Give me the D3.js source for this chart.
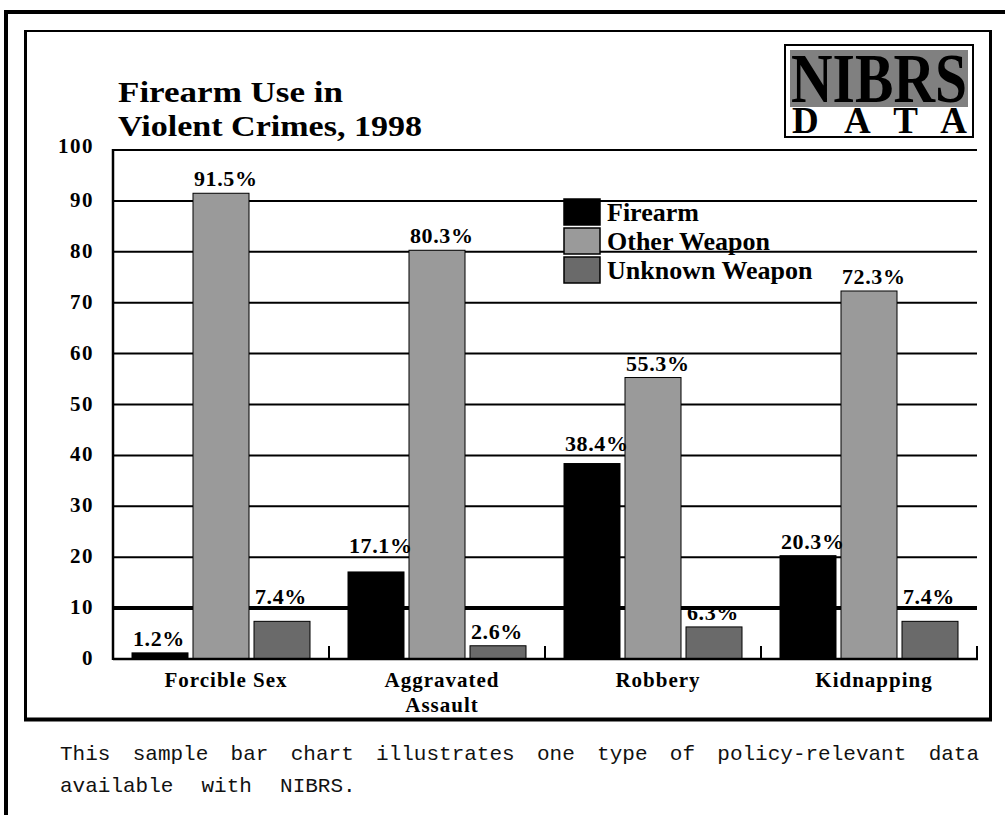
<!DOCTYPE html>
<html>
<head>
<meta charset="utf-8">
<script src="https://cdn.jsdelivr.net/npm/d3@7"></script>
<style>
  html, body { margin: 0; padding: 0; background: #fff; }
  svg { display: block; }
</style>
</head>
<body>
<div id="chart"></div>
<script>
// ---- data ----
const categories = ["Forcible Sex", "Aggravated Assault", "Robbery", "Kidnapping"];
const categoryLines = [["Forcible Sex"], ["Aggravated", "Assault"], ["Robbery"], ["Kidnapping"]];
const seriesNames = ["Firearm", "Other Weapon", "Unknown Weapon"];
const firearm = [1.2, 17.1, 38.4, 20.3];
const otherWeapon = [91.5, 80.3, 55.3, 72.3];
const unknownWeapon = [7.4, 2.6, 6.3, 7.4];
const yTicks = [0, 10, 20, 30, 40, 50, 60, 70, 80, 90, 100];
const titleLines = ["Firearm Use in", "Violent Crimes, 1998"];
const captionLines = ["This sample bar chart illustrates one type of policy-relevant data", "available with NIBRS."];

const seriesValues = [firearm, otherWeapon, unknownWeapon];
const colors = ["#000000", "#9a9a9a", "#6a6a6a"];

const W = 1005, H = 815;
const svg = d3.select("#chart").append("svg").attr("width", W).attr("height", H);
svg.append("rect").attr("width", W).attr("height", H).attr("fill", "#fff");

const serif = "'Liberation Serif', 'Times New Roman', serif";

// ---- frames ----
svg.append("line").attr("x1", 4).attr("x2", W + 5).attr("y1", 12).attr("y2", 12).attr("stroke", "#000").attr("stroke-width", 4);
svg.append("line").attr("x1", 6).attr("x2", 6).attr("y1", 10).attr("y2", H + 5).attr("stroke", "#000").attr("stroke-width", 4);

svg.append("line").attr("x1", 24).attr("x2", 992).attr("y1", 31).attr("y2", 31).attr("stroke", "#000").attr("stroke-width", 2);
svg.append("line").attr("x1", 25.5).attr("x2", 25.5).attr("y1", 30).attr("y2", 721).attr("stroke", "#000").attr("stroke-width", 3);
svg.append("line").attr("x1", 990.5).attr("x2", 990.5).attr("y1", 30).attr("y2", 721).attr("stroke", "#000").attr("stroke-width", 3);
svg.append("line").attr("x1", 24).attr("x2", 992).attr("y1", 719.5).attr("y2", 719.5).attr("stroke", "#000").attr("stroke-width", 4);

// ---- scales ----
const plot = { left: 113, right: 977, top: 150, bottom: 659 };
const y = d3.scaleLinear().domain([0, 100]).range([plot.bottom, plot.top]);
const x0 = d3.scaleBand().domain(categories).range([plot.left, plot.right]).padding(0);
const x1 = d3.scaleBand().domain(seriesNames).range([19, x0.bandwidth() - 19]).paddingInner(5 / 61).paddingOuter(0);

// ---- gridlines ----
svg.append("g").selectAll("line").data(yTicks.filter(t => t > 0)).join("line")
  .attr("x1", plot.left).attr("x2", plot.right)
  .attr("y1", d => y(d)).attr("y2", d => y(d))
  .attr("stroke", "#000")
  .attr("stroke-width", d => d === 10 ? 4 : 2);

// ---- y tick labels ----
svg.append("g").selectAll("text").data(yTicks).join("text")
  .attr("x", 94).attr("y", d => y(d) + (d === 100 ? 3 : 6))
  .attr("text-anchor", "end")
  .attr("font-family", serif).attr("font-weight", "bold").attr("font-size", 21)
  .attr("letter-spacing", 1.5)
  .text(d => d);

// ---- bars ----
const rows = categories.map((c, i) => ({ cat: c, vals: seriesNames.map((s, j) => ({ s, j, v: seriesValues[j][i] })) }));
const groups = svg.append("g").selectAll("g").data(rows).join("g")
  .attr("transform", d => `translate(${x0(d.cat)},0)`);

groups.selectAll("rect").data(d => d.vals).join("rect")
  .attr("x", d => x1(d.s)).attr("width", x1.bandwidth())
  .attr("y", d => y(d.v)).attr("height", d => y(0) - y(d.v))
  .attr("fill", d => colors[d.j])
  .attr("stroke", "#000").attr("stroke-width", 1);

// ---- value labels: sit above bar; lifted above a gridline they would collide with ----
function labelBaseline(v) {
  let b = y(v) - 7;
  const hit = yTicks.filter(t => t > 0).map(t => y(t)).find(ly => ly >= b - 11 && ly <= b + 4);
  if (hit !== undefined) b = hit - 4;
  return b;
}
groups.selectAll("text.lbl").data(d => d.vals).join("text").attr("class", "lbl")
  .attr("x", d => x1(d.s) + 1).attr("y", d => labelBaseline(d.v))
  .attr("font-family", serif).attr("font-weight", "bold").attr("font-size", 22)
  .attr("letter-spacing", 0.6)
  .text(d => d3.format(".1f")(d.v) + "%");

// ---- axes lines ----
svg.append("line").attr("x1", plot.left).attr("x2", plot.left).attr("y1", plot.top - 1).attr("y2", plot.bottom + 1).attr("stroke", "#000").attr("stroke-width", 2.5);
svg.append("line").attr("x1", plot.left).attr("x2", plot.right + 1).attr("y1", plot.bottom).attr("y2", plot.bottom).attr("stroke", "#000").attr("stroke-width", 2.5);
svg.append("g").selectAll("line").data(categories).join("line")
  .attr("x1", d => x0(d) + x0.bandwidth()).attr("x2", d => x0(d) + x0.bandwidth())
  .attr("y1", plot.bottom - 13).attr("y2", plot.bottom)
  .attr("stroke", "#000").attr("stroke-width", 2);

// ---- category labels ----
svg.append("g").selectAll("text").data(categories).join("text")
  .attr("x", d => x0(d) + x0.bandwidth() / 2 + 5)
  .attr("y", 687)
  .attr("text-anchor", "middle")
  .attr("font-family", serif).attr("font-weight", "bold").attr("font-size", 21)
  .attr("letter-spacing", 1)
  .each(function (d, i) {
    d3.select(this).selectAll("tspan").data(categoryLines[i]).join("tspan")
      .attr("x", x0(d) + x0.bandwidth() / 2 + 5)
      .attr("dy", (l, k) => k === 0 ? 0 : 25)
      .text(l => l);
  });

// ---- title ----
svg.append("g").selectAll("text").data(titleLines).join("text")
  .attr("x", 118).attr("y", (d, i) => 102 + i * 34)
  .attr("font-family", serif).attr("font-weight", "bold").attr("font-size", 30)
  .attr("textLength", (d, i) => i === 0 ? 225 : 304)
  .attr("lengthAdjust", "spacingAndGlyphs")
  .text(d => d);

// ---- logo ----
const logo = svg.append("g");
logo.append("rect").attr("x", 785).attr("y", 45).attr("width", 188).attr("height", 92).attr("fill", "#fff").attr("stroke", "#000").attr("stroke-width", 2);
logo.append("rect").attr("x", 790).attr("y", 50).attr("width", 178).attr("height", 57).attr("fill", "#808080");
logo.append("text").attr("x", 791).attr("y", 102)
  .attr("font-family", serif).attr("font-weight", "bold").attr("font-size", 70)
  .attr("textLength", 176).attr("lengthAdjust", "spacingAndGlyphs")
  .text("NIBRS");
logo.append("text").attr("x", 792).attr("y", 133)
  .attr("font-family", serif).attr("font-weight", "bold").attr("font-size", 37)
  .attr("textLength", 175).attr("lengthAdjust", "spacing")
  .text("DATA");

// ---- legend ----
const legend = svg.append("g").attr("transform", "translate(564,199)");
const li = legend.selectAll("g").data(seriesNames).join("g")
  .attr("transform", (d, i) => `translate(0,${i * 29})`);
li.append("rect").attr("width", 36).attr("height", 26)
  .attr("fill", (d, i) => colors[i])
  .attr("stroke", "#000").attr("stroke-width", 1.5);
li.append("text").attr("x", 43).attr("y", 22)
  .attr("font-family", serif).attr("font-weight", "bold").attr("font-size", 26)
  .text(d => d);

// ---- caption ----
svg.append("g").selectAll("text").data(captionLines).join("text")
  .attr("x", 60).attr("y", (d, i) => 760 + i * 32)
  .attr("font-family", "'Liberation Mono', 'Courier New', monospace").attr("font-size", 21)
  .attr("word-spacing", (d, i) => i === 0 ? 9.7 : 15.5)
  .attr("fill", "#111")
  .text(d => d);
</script>
</body>
</html>
